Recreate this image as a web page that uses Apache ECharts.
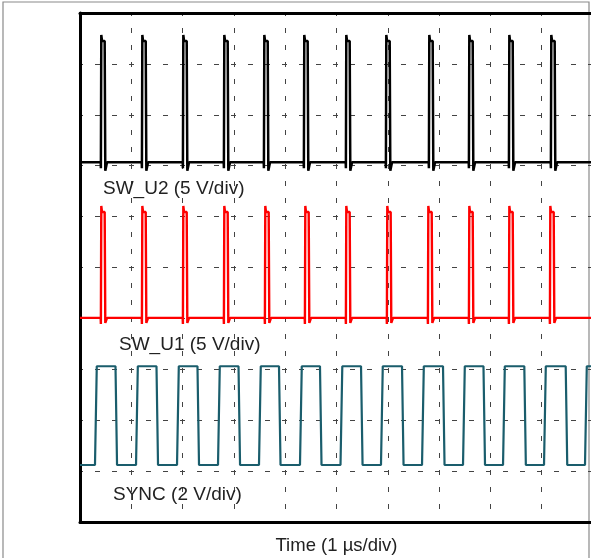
<!DOCTYPE html>
<html>
<head>
<meta charset="utf-8">
<script src="https://cdn.jsdelivr.net/npm/echarts@6/dist/echarts.min.js"></script>
<style>
html,body{margin:0;padding:0;background:#fff;}
#chart{width:591px;height:558px;}
</style>
</head>
<body>
<div id="chart"></div>
<script>
// Time axis: microseconds (1 µs/div), vertical axis: divisions
const timeRange = [0, 10];
const divRange = [0, 10];

// SW_U2 (black) pulse rising edges, µs
const sw2Rise = [0.409, 1.209, 2.008, 2.807, 3.587, 4.366, 5.185, 5.965, 6.803, 7.583, 8.363, 9.181];
// SW_U1 (red) pulse rising edges, µs
const sw1Rise = [0.409, 1.209, 2.008, 2.807, 3.606, 4.386, 5.185, 5.984, 6.784, 7.583, 8.363, 9.162];
const pulseWidth = 0.078;

// levels in divisions: [baseline, spike, plateau, undershoot]
const sw2Levels = [7.07, 9.57, 9.45, 6.90];
const sw1Levels = [4.01, 6.21, 6.09, 3.91];

// SYNC (teal) edges, µs
const syncRise = [0.292, 1.092, 1.891, 2.690, 3.489, 4.288, 5.078, 5.867, 6.667, 7.466, 8.246, 9.045, 9.844];
const syncFall = [0.692, 1.491, 2.290, 3.090, 3.879, 4.678, 5.478, 6.277, 7.076, 7.865, 8.661, 9.468];
const syncLevels = [1.12, 3.06]; // low, high

const labels = ['SW_U2 (5 V/div)', 'SW_U1 (5 V/div)', 'SYNC (2 V/div)'];
const xTitle = 'Time (1 µs/div)';

function pulsePoints(rises, lv) {
  const [base, spike, top, under] = lv;
  const pts = [[timeRange[0], base]];
  rises.forEach(r => {
    pts.push([r - 0.006, base]);
    pts.push([r - 0.002, base - 0.12]);
    pts.push([r + 0.006, spike]);
    pts.push([r + 0.02, top]);
    pts.push([r + pulseWidth - 0.006, top]);
    pts.push([r + pulseWidth + 0.006, under]);
    pts.push([r + pulseWidth + 0.04, base]);
  });
  pts.push([timeRange[1], base]);
  return pts;
}

function syncPoints() {
  const [lo, hi] = syncLevels;
  const edges = [];
  syncRise.forEach(t => edges.push([t, 'r']));
  syncFall.forEach(t => edges.push([t, 'f']));
  edges.sort((a, b) => a[0] - b[0]);
  const pts = [[timeRange[0], lo]];
  edges.forEach(([t, k]) => {
    if (k === 'r') { pts.push([t, lo]); pts.push([t + 0.035, hi]); }
    else { pts.push([t, hi]); pts.push([t + 0.03, lo]); }
  });
  pts.push([timeRange[1], hi]);
  return pts;
}

const gridDash = { type: [5, 12], dashOffset: 2, color: '#444', width: 1 };
const textFont = '"Liberation Sans", Arial, Helvetica, sans-serif';
const frameLine = { show: true, onZero: false, lineStyle: { color: '#000', width: 3 } };

const chart = echarts.init(document.getElementById('chart'), null, { renderer: 'canvas' });
chart.setOption({
  animation: false,
  backgroundColor: '#fff',
  grid: { left: 80, top: 13, width: 513, height: 509, show: false, outerBoundsMode: 'none', containLabel: false },
  xAxis: [{
    type: 'value', min: timeRange[0], max: timeRange[1], interval: 1, position: 'bottom',
    axisLine: frameLine, axisTick: { show: false }, axisLabel: { show: false },
    splitLine: { show: true, lineStyle: gridDash },
    name: xTitle, nameLocation: 'middle', nameGap: 14,
    nameTextStyle: { fontFamily: textFont, fontSize: 18.5, color: '#222', verticalAlign: 'top' }
  }, {
    type: 'value', min: timeRange[0], max: timeRange[1], interval: 1, position: 'top',
    axisLine: frameLine, axisTick: { show: false }, axisLabel: { show: false },
    splitLine: { show: false }
  }],
  yAxis: {
    type: 'value', min: divRange[0], max: divRange[1], interval: 1, position: 'left',
    axisLine: frameLine, axisTick: { show: false }, axisLabel: { show: false },
    splitLine: { show: true, lineStyle: gridDash }
  },
  series: [
    { type: 'line', data: pulsePoints(sw2Rise, sw2Levels), showSymbol: false, lineStyle: { color: '#000', width: 2.5 }, z: 3 },
    { type: 'line', data: pulsePoints(sw1Rise, sw1Levels), showSymbol: false, lineStyle: { color: '#ff0000', width: 2.4 }, z: 3 },
    { type: 'line', data: syncPoints(), showSymbol: false, lineStyle: { color: '#1a5d6c', width: 2.2 }, z: 3 }
  ],
  graphic: [
    { type: 'rect', shape: { x: 3, y: 2, width: 586, height: 620 }, style: { fill: 'none', stroke: '#8a8a8a', lineWidth: 1.2 }, z: 0, silent: true },
    { type: 'text', left: 103, top: 179, style: { text: labels[0], font: '19px ' + textFont, fill: '#222' }, z: 10 },
    { type: 'text', left: 119, top: 335, style: { text: labels[1], font: '19px ' + textFont, fill: '#222' }, z: 10 },
    { type: 'text', left: 113, top: 485, style: { text: labels[2], font: '19px ' + textFont, fill: '#222' }, z: 10 }
  ]
});
</script>
</body>
</html>
